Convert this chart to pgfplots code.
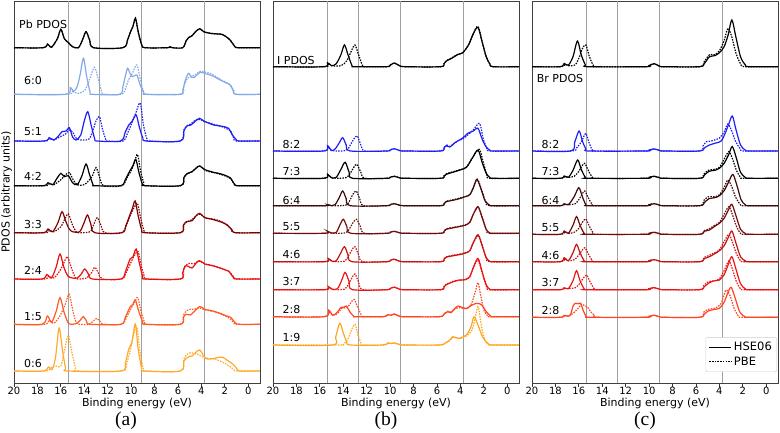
\documentclass[border=0pt]{standalone}
\usepackage{pgfplots}
\pgfplotsset{compat=1.18}
\usepackage{fontspec}
\setmainfont{DejaVu Sans}
\newfontfamily\seriff{Liberation Serif}
\definecolor{c60}{HTML}{85A9E8}
\definecolor{cblue}{HTML}{1F1FF5}
\definecolor{c33}{HTML}{800000}
\definecolor{c24}{HTML}{E8100E}
\definecolor{c15}{HTML}{FF5A24}
\definecolor{c06}{HTML}{FFAA2C}
\definecolor{c64}{HTML}{3C0A0A}
\definecolor{c55}{HTML}{700C0C}
\definecolor{c46}{HTML}{C81212}
\definecolor{c37}{HTML}{EE1414}
\definecolor{c28}{HTML}{FF4422}
\definecolor{c19}{HTML}{FFA620}
\definecolor{vl}{HTML}{A0A0A0}
\tikzset{hse/.style={solid,line width=1.2pt},pbe/.style={line width=1.2pt,dash pattern=on 1.5pt off 1.2pt}}
\newcommand{\cv}[4]{\addplot[#1,#2,smooth,tension=0.5,forget plot,y filter/.expression={y-#3}] coordinates {#4};}
\newcommand{\fs}{\fontsize{11}{13}\selectfont}
\newcommand{\ft}{\fontsize{10}{12}\selectfont}
\pgfplotsset{panel/.style={
  scale only axis, width=246pt, height=382pt, anchor=south west,
  xmin=-1, xmax=20, x dir=reverse, ymin=-383, ymax=-1,
  ytick=\empty, xtick={0,2,...,20}, xtick pos=lower, tick align=outside,
  major tick length=3.5pt, tick style={black!80,line width=0.8pt},
  axis line style={black!75,line width=0.8pt},
  /pgf/number format/assume math mode=true,
  tick label style={font=\ft}, xticklabel style={yshift=2.5pt},
  label style={font=\fs},
  xlabel={Binding energy (eV)},
  xlabel style={at={(axis description cs:0.5,0)},anchor=center,yshift=-20.3pt},
  clip=true}}
\newcommand{\vlines}{%
\addplot[vl,line width=1pt,forget plot] coordinates {(15.33,-383)(15.33,-1)};
\addplot[vl,line width=1pt,forget plot] coordinates {(12.68,-383)(12.68,-1)};
\addplot[vl,line width=1pt,forget plot] coordinates {(9.08,-383)(9.08,-1)};
\addplot[vl,line width=1pt,forget plot] coordinates {(3.70,-383)(3.70,-1)};}
\begin{document}
\begin{tikzpicture}
\path[use as bounding box] (0,0) rectangle (780pt,432pt);
% ---------------- (a) ----------------
\begin{axis}[panel, at={(14pt,49pt)}]
\vlines
% Pb
\cv{black}{pbe}{47.7}{(20,0)(17.5,0)(17.15,3.5)(16.8,0.5)(16.3,9)(16.0,18.2)(15.7,9)(15.35,5)(15.0,1)(14.5,0)(14.15,8)(13.85,16)(13.55,8)(13.2,0)(10.7,0)(10.3,8)(10.05,16)(9.85,21)(9.63,29.8)(9.4,16)(9.1,3)(8.8,0)(6.9,0)(6.7,1)(6.5,0)(5.6,0)(5.3,7)(5.1,10)(4.8,12)(4.5,16)(4.15,19)(3.8,16)(3.25,14.4)(2.7,13.8)(2.25,13.4)(1.9,11)(1.55,7.7)(1.2,2)(0.9,0)(-1,0)}
\cv{black}{hse}{47.7}{(20,0)(17.5,0)(17.15,3.7)(16.8,0.5)(16.3,9)(16.0,18.4)(15.7,9)(15.35,5)(15.0,1)(14.5,0)(14.15,8)(13.85,16)(13.55,8)(13.2,0)(10.7,0)(10.3,8)(10.05,16)(9.85,21)(9.63,29.4)(9.4,16)(9.1,3)(8.8,0)(6.9,0)(6.7,1)(6.5,0)(5.6,0)(5.3,7)(5.1,10)(4.8,12)(4.5,16)(4.15,19)(3.8,16)(3.25,14.4)(2.7,13.8)(2.25,13.4)(1.9,11)(1.55,7.7)(1.2,2)(0.9,0)(-1,0)}
% 6:0
\cv{c60}{pbe}{94.3}{(20,0)(15.5,0)(15.0,2.5)(14.5,1)(13.95,4)(13.55,15)(13.13,27)(12.8,15)(12.5,2)(12.3,0)(10.8,0)(10.45,7)(10.2,15)(9.94,20)(9.75,25)(9.5,29.3)(9.25,17)(8.95,3)(8.7,0)(5.8,0)(5.5,8)(5.2,16)(4.96,18)(4.6,19)(4.1,23)(3.6,22)(3.25,21)(2.8,18)(2.4,15)(1.9,12)(1.5,9)(1.2,3)(1.0,0)(-1,0)}
\cv{c60}{hse}{94.3}{(20,0)(15.6,0)(15.2,6.7)(14.9,3)(14.6,8)(14.35,20)(14.07,36)(13.8,18)(13.5,2)(13.3,0)(11.0,0)(10.7,8)(10.5,18)(10.3,26)(10.1,21)(9.9,17.7)(9.7,18.5)(9.5,19.3)(9.25,10)(8.9,1)(8.7,0)(5.8,0)(5.6,4)(5.35,15)(5.1,21)(4.85,17)(4.6,17)(4.1,22)(3.6,20.5)(3.25,19.3)(2.8,17)(2.4,14.3)(1.9,11.5)(1.55,9.3)(1.3,4)(1.05,0)(-1,0)}
% 5:1
\cv{cblue}{pbe}{141}{(20,0)(17.3,0)(17.0,2.5)(16.6,1)(16.1,4)(15.6,7)(15.3,11)(15.0,9)(14.7,3)(14.3,1)(13.6,2)(13.25,11)(13.0,20)(12.7,24.3)(12.45,12)(12.15,1)(12.0,0)(10.7,0)(10.3,8)(9.94,18)(9.6,28)(9.23,38)(8.95,16)(8.65,2)(8.4,0)(5.8,0)(5.5,11)(5.2,15.5)(4.9,17)(4.5,21)(4.1,21.5)(3.7,19)(3.3,18)(2.9,16.5)(2.4,15)(1.9,12.5)(1.5,10)(1.25,3)(1.0,0)(-1,0)}
\cv{cblue}{hse}{141}{(20,0)(17.4,0)(17.0,3.3)(16.6,1)(16.2,5)(15.9,9.3)(15.55,10)(15.27,13.3)(15.0,4)(14.7,1)(14.3,6)(14.0,20)(13.7,29.3)(13.4,15)(13.1,2)(12.9,0)(10.9,0)(10.5,9)(10.2,16)(9.9,20)(9.57,26)(9.3,14)(9.0,3)(8.7,0)(5.8,0)(5.5,10)(5.24,15)(4.9,16)(4.5,20)(4.16,22.7)(3.8,20)(3.4,18)(2.96,16)(2.4,15)(1.95,14)(1.68,12.7)(1.35,6)(1.0,1)(0.8,0)(-1,0)}
% 4:2
\cv{black}{pbe}{185.7}{(20,0)(17.3,0)(17.0,2)(16.6,1)(16.0,6)(15.6,11)(15.27,13)(14.95,6)(14.6,1)(14.0,1)(13.35,9)(13.0,18)(12.7,9)(12.35,0)(10.8,0)(10.35,8)(10.0,15)(9.75,22)(9.46,31.3)(9.2,15)(8.9,2)(8.7,0)(5.8,0)(5.5,8)(5.2,12)(4.8,14)(4.4,18.5)(4.1,19.5)(3.7,15.5)(3.3,14)(2.9,13)(2.4,11.5)(1.9,9.5)(1.5,7)(1.2,1.5)(0.95,0)(-1,0)}
\cv{black}{hse}{185.7}{(20,0)(17.5,0)(17.1,3)(16.7,1)(16.35,7)(16.0,12.3)(15.7,9)(15.36,10)(15.0,3)(14.6,1)(14.2,10)(13.85,21.7)(13.55,11)(13.25,1)(13.1,0)(10.9,0)(10.5,6)(10.1,15)(9.85,20)(9.6,26.3)(9.35,14)(9.05,2)(8.8,0)(5.8,0)(5.5,8)(5.24,12)(4.8,14)(4.4,18)(4.16,19.7)(3.7,16)(3.3,14.5)(2.96,13.3)(2.4,12)(1.9,10)(1.54,8)(1.2,2)(0.9,0)(-1,0)}
% 3:3
\cv{c33}{pbe}{232.7}{(20,0)(17.3,0)(17.0,2.5)(16.6,1)(16.0,6)(15.65,14)(15.36,18.7)(15.05,9)(14.7,1)(14.4,0)(13.5,1)(13.2,8)(12.9,15)(12.6,8)(12.25,0)(10.8,0)(10.4,8)(10.05,18)(9.75,25)(9.46,29.3)(9.2,15)(8.9,2)(8.7,0)(5.8,0)(5.5,8)(5.2,11)(4.8,13)(4.4,17.5)(4.1,18.5)(3.7,15)(3.3,14)(2.9,13.5)(2.4,11.5)(1.9,8.5)(1.5,4)(1.15,0)(-1,0)}
\cv{c33}{hse}{232.7}{(20,0)(17.5,0)(17.1,3.7)(16.7,1)(16.25,10)(15.9,21)(15.6,12)(15.3,4)(15.0,1)(14.4,1)(14.05,9)(13.73,17.7)(13.45,9)(13.1,0)(10.8,0)(10.45,7)(10.1,18)(9.9,24)(9.66,31.7)(9.4,17)(9.1,3)(8.8,0)(5.8,0)(5.55,7)(5.3,11)(4.8,12)(4.45,17)(4.16,19.3)(3.7,15)(3.3,14)(2.96,13)(2.4,11)(1.82,8)(1.4,3)(1.1,0)(-1,0)}
% 2:4
\cv{c24}{pbe}{279}{(20,0)(17.4,0)(17.05,3)(16.6,1)(16.1,8)(15.75,16)(15.44,22.3)(15.1,11)(14.75,1)(14.5,0)(13.8,1)(13.4,6)(13.1,11.7)(12.8,6)(12.45,0)(10.8,0)(10.4,7)(10.0,17)(9.7,24)(9.4,27.3)(9.15,14)(8.85,2)(8.65,0)(5.8,0)(5.5,10)(5.2,15)(4.96,15.7)(4.6,15.5)(4.2,18)(3.7,15)(3.3,14)(2.9,13)(2.4,11)(1.9,9)(1.5,6)(1.2,1)(1.0,0)(-1,0)}
\cv{c24}{hse}{279}{(20,0)(17.6,0)(17.2,4.5)(16.8,1)(16.4,12)(16.07,25)(15.75,12)(15.4,3)(15.0,1)(14.6,1)(14.25,5)(13.96,10)(13.65,5)(13.3,0)(10.9,0)(10.5,7)(10.1,19.7)(9.85,22)(9.57,30)(9.3,16)(9.0,2)(8.8,0)(5.8,0)(5.6,6)(5.4,13)(5.1,12.5)(4.8,11)(4.45,16)(4.16,18.3)(3.7,15)(3.3,14)(2.96,13)(2.4,11)(1.95,9)(1.68,8)(1.3,2)(1.0,0)(-1,0)}
% 1:5
\cv{c15}{pbe}{324.3}{(20,0)(17.4,0)(17.0,4)(16.6,1)(16.1,8)(15.65,19)(15.3,30)(15.0,15)(14.7,2)(14.4,0)(13.6,0)(13.25,3)(12.93,6)(12.6,2)(12.3,0)(10.8,0)(10.4,7)(10.0,16)(9.7,22)(9.44,26.7)(9.15,13)(8.85,2)(8.65,0)(5.8,0)(5.5,10)(5.2,14)(4.94,15)(4.6,15)(4.2,16.5)(3.7,14.5)(3.3,13.5)(2.9,12.5)(2.4,10.5)(1.9,8)(1.5,5)(1.2,1)(1.0,0)(-1,0)}
\cv{c15}{hse}{324.3}{(20,0)(17.6,0)(17.15,8.3)(16.8,2)(16.4,13)(16.07,26.7)(15.75,13)(15.4,2)(15.1,0)(14.6,1)(14.35,4)(14.07,7.7)(13.8,3)(13.5,0)(10.9,0)(10.5,7)(10.07,17.7)(9.85,20)(9.64,24.3)(9.35,13)(9.0,2)(8.8,0)(5.8,0)(5.55,7)(5.3,10)(4.94,9.3)(4.6,13)(4.14,17.7)(3.7,15)(3.3,14)(2.94,13)(2.4,11)(1.9,8.5)(1.5,7)(1.15,2)(0.8,0)(-1,0)}
% 0:6
\cv{c06}{pbe}{371}{(20,0)(17.3,0)(16.9,3)(16.5,4.7)(16.3,4.7)(16.0,5)(15.7,20)(15.36,35.7)(15.05,18)(14.75,3)(14.55,0)(10.8,0)(10.4,7)(10.05,22)(9.8,36)(9.5,43.7)(9.25,20)(8.95,2)(8.75,0)(5.8,0)(5.5,12)(5.2,17)(4.94,18.3)(4.6,17.5)(4.36,17)(3.9,14)(3.4,12.5)(2.94,12)(2.4,10)(1.9,7)(1.4,3)(1.0,0)(-1,0)}
\cv{c06}{hse}{371}{(20,0)(17.5,0)(17.07,4)(16.75,1.5)(16.45,14)(16.15,43)(15.85,20)(15.6,3)(15.4,0)(10.9,0)(10.5,8)(10.2,22)(9.95,28)(9.64,47)(9.4,22)(9.1,3)(8.85,0)(5.8,0)(5.5,10)(5.08,14.3)(4.8,15)(4.45,19)(4.14,21)(3.8,15)(3.5,12)(3.0,12.5)(2.6,13.5)(2.2,13.7)(1.7,10)(1.23,6)(0.9,1)(0.7,0)(-1,0)}
\begin{scope}[every node/.style={anchor=west,inner sep=0pt,font=\fs}]
\node at (axis cs:19.57,-24) {Pb PDOS};
\node at (axis cs:19.15,-80) {6:0};
\node at (axis cs:19.15,-132) {5:1};
\node at (axis cs:19.15,-176.7) {4:2};
\node at (axis cs:19.15,-224.3) {3:3};
\node at (axis cs:19.15,-270.7) {2:4};
\node at (axis cs:19.15,-316.7) {1:5};
\node at (axis cs:19.15,-363.3) {0:6};
\end{scope}
\end{axis}
% ---------------- (b) ----------------
\begin{axis}[panel, at={(273pt,49pt)}]
\vlines
\cv{black}{pbe}{66.7}{(20,0)(15.6,0)(15.3,3.5)(15.0,1)(14.2,1)(13.7,6)(13.3,16)(13.0,21.7)(12.7,12)(12.35,1)(12.1,0)(10.3,0)(10.0,1.5)(9.64,3.7)(9.2,1)(8.7,0)(5.7,0)(5.4,3)(5.2,6)(4.8,8.5)(4.2,12.5)(3.8,14)(3.3,22)(2.9,33)(2.5,40.3)(2.15,25)(1.8,10)(1.5,3)(1.2,0)(-1,0)}
\cv{black}{hse}{66.7}{(20,0)(15.7,0)(15.35,4)(15.0,1)(14.6,3)(14.2,12)(13.9,21.7)(13.6,12)(13.25,1)(13.0,0)(10.3,0)(10.0,1.5)(9.64,3.7)(9.2,1)(8.7,0)(5.7,0)(5.4,3)(5.2,5.7)(4.8,8)(4.2,12.3)(3.8,14)(3.3,22)(2.9,33)(2.5,39.3)(2.15,25)(1.8,10)(1.5,3)(1.2,0)(-1,0)}
\cv{cblue}{pbe}{151}{(20,0)(15.7,0)(15.3,4.5)(15.0,0.5)(13.8,0.5)(13.4,6)(13.1,12)(12.8,15)(12.5,6)(12.15,0)(10.3,0)(10.0,1)(9.64,2.3)(9.2,0.5)(8.7,0)(5.7,0)(5.4,3.5)(5.15,6)(4.9,4.5)(4.5,8)(4.2,10.3)(3.8,12)(3.37,16)(2.9,21)(2.37,27.7)(2.05,12)(1.75,3)(1.5,0)(-1,0)}
\cv{cblue}{hse}{151}{(20,0)(15.7,0)(15.35,5.3)(15.0,0.5)(14.7,2)(14.35,8)(14.05,13.3)(13.75,6)(13.4,0)(10.3,0)(10.0,1)(9.64,2.3)(9.2,0.5)(8.7,0)(5.7,0)(5.4,3)(5.2,5.3)(4.9,4)(4.5,8)(4.2,10.3)(3.8,13)(3.37,17.7)(2.9,20)(2.5,22.7)(2.15,12)(1.8,4)(1.5,1)(1.2,0)(-1,0)}
\cv{black}{pbe}{178.3}{(20,0)(15.7,0)(15.3,3.5)(15.0,0.5)(13.8,0.5)(13.4,5)(13.1,11)(12.84,14)(12.5,6)(12.15,0)(10.3,0)(10.0,1)(9.64,2)(9.2,0.5)(8.7,0)(5.7,0)(5.4,2.5)(5.2,4.5)(4.8,6)(4.2,8)(3.5,11)(3.0,20)(2.4,29)(2.05,16)(1.75,4)(1.5,0)(-1,0)}
\cv{black}{hse}{178.3}{(20,0)(15.7,0)(15.35,4)(15.0,0.5)(14.6,1)(14.2,9)(13.84,16)(13.5,6)(13.2,0)(10.3,0)(10.0,1)(9.64,2)(9.2,0.5)(8.7,0)(5.7,0)(5.4,2)(5.2,4)(4.8,5.5)(4.2,7.7)(3.5,11)(3.0,20)(2.5,28.3)(2.15,16)(1.8,5)(1.5,1)(1.2,0)(-1,0)}
\cv{c64}{pbe}{205.7}{(20,0)(15.5,0)(15.3,1)(15.0,0)(13.8,0.5)(13.45,5)(13.2,11)(12.9,14.7)(12.6,7)(12.25,0)(10.3,0)(10.0,1)(9.64,2)(9.2,0.5)(8.7,0)(5.7,0)(5.4,2.5)(5.2,4.5)(4.6,6)(4.1,7.5)(3.6,9)(3.2,11)(2.9,18)(2.55,26.5)(2.2,16)(1.85,4)(1.5,0)(-1,0)}
\cv{c64}{hse}{205.7}{(20,0)(15.6,0)(15.35,1)(15.0,0)(14.7,1)(14.35,8)(14.05,14.7)(13.75,7)(13.4,0)(10.3,0)(10.0,1)(9.64,2)(9.2,0.5)(8.7,0)(5.7,0)(5.4,2)(5.2,4)(4.6,5.5)(4.1,7)(3.6,9)(3.2,11)(2.9,18)(2.6,26.3)(2.25,17)(1.9,5)(1.5,0.5)(1.2,0)(-1,0)}
\cv{c55}{pbe}{233.3}{(20,0)(15.6,0)(15.3,1.5)(15.0,0)(13.8,0.5)(13.45,5)(13.15,11)(12.87,14)(12.55,7)(12.2,0)(10.3,0)(10.0,1)(9.64,2)(9.2,0.5)(8.7,0)(5.7,0)(5.4,2.5)(5.2,4.5)(4.6,6)(4.1,7)(3.6,8.5)(3.2,11)(2.9,19)(2.5,26)(2.15,16)(1.8,4)(1.5,0)(-1,0)}
\cv{c55}{hse}{233.3}{(20,0)(15.65,0)(15.35,2)(15.0,0.3)(14.6,1)(14.3,8)(14.0,14)(13.7,7)(13.35,0)(10.3,0)(10.0,1)(9.64,2)(9.2,0.5)(8.7,0)(5.7,0)(5.4,2)(5.2,4)(4.6,5.5)(4.1,6.7)(3.6,8)(3.2,11)(2.9,19)(2.5,26.7)(2.15,16)(1.8,4)(1.5,0.5)(1.2,0)(-1,0)}
\cv{c46}{pbe}{261.7}{(20,0)(15.6,0)(15.26,2.5)(14.95,0.3)(13.9,0.5)(13.55,6)(13.25,12)(13.0,15)(12.7,7)(12.35,0)(10.3,0)(10.0,1.2)(9.64,2.5)(9.2,0.5)(8.7,0)(5.7,0)(5.4,3)(5.2,5)(4.6,6.5)(4.1,7.5)(3.6,9)(3.2,11)(2.9,19)(2.45,26)(2.1,15)(1.8,4)(1.5,0)(-1,0)}
\cv{c46}{hse}{261.7}{(20,0)(15.65,0)(15.26,3)(14.95,0.5)(14.6,1)(14.25,8)(13.9,15)(13.6,7)(13.25,0)(10.3,0)(10.0,1.2)(9.64,2.5)(9.2,0.5)(8.7,0)(5.7,0)(5.4,2.5)(5.2,4.5)(4.6,6)(4.1,7)(3.6,8.5)(3.2,11)(2.9,19)(2.5,27)(2.15,16)(1.8,4)(1.5,0.5)(1.2,0)(-1,0)}
\cv{c37}{pbe}{289.7}{(20,0)(15.6,0)(15.26,2.5)(14.95,0.3)(13.9,0.5)(13.55,6)(13.25,12)(13.0,15.7)(12.7,8)(12.35,0)(10.3,0)(10.0,1.2)(9.64,2.5)(9.2,0.5)(8.7,0)(5.7,0)(5.4,3.5)(5.2,5.5)(4.6,8.5)(4.07,9.5)(3.6,10)(3.2,13)(2.9,22)(2.5,29.7)(2.15,17)(1.8,4)(1.5,0)(-1,0)}
\cv{c37}{hse}{289.7}{(20,0)(15.65,0)(15.26,3)(14.95,0.5)(14.5,1)(14.15,9)(13.84,17.3)(13.5,8)(13.2,0)(10.3,0)(10.0,1.2)(9.64,2.5)(9.2,0.5)(8.7,0)(5.7,0)(5.4,3)(5.2,5)(4.6,8)(4.07,9.7)(3.6,10)(3.2,13)(2.9,22)(2.5,31.3)(2.15,18)(1.8,5)(1.5,0.5)(1.2,0)(-1,0)}
\cv{c28}{pbe}{316.7}{(20,0)(15.65,0)(15.26,5)(14.9,1.5)(14.5,3)(14.15,8)(13.85,9)(13.6,10)(13.35,14)(13.07,17.3)(12.75,9)(12.4,0.5)(12.2,0)(10.6,0)(10.2,2)(9.9,1.5)(9.64,2.7)(9.2,0.5)(8.7,0)(5.8,0)(5.4,3)(5.08,5.5)(4.8,4.5)(4.5,7.5)(4.2,9)(3.8,8.5)(3.5,8)(3.1,12)(2.75,24)(2.5,34)(2.25,20)(1.95,5)(1.6,0.5)(1.4,0)(-1,0)}
\cv{c28}{hse}{316.7}{(20,0)(15.65,0)(15.26,6.7)(14.9,1.5)(14.55,4)(14.2,9.3)(13.95,9.5)(13.72,10.7)(13.45,5)(13.1,0.5)(12.9,0)(10.6,0)(10.2,2)(9.9,1.5)(9.64,2.7)(9.2,0.5)(8.7,0)(5.8,0)(5.4,2.5)(5.08,5)(4.8,4)(4.5,8)(4.2,10.7)(3.8,9)(3.5,8)(3.1,11)(2.65,13.3)(2.2,12)(1.8,5)(1.4,0.5)(1.2,0)(-1,0)}
\cv{c19}{pbe}{345}{(20,0)(14.5,0)(14.0,0.5)(13.6,6)(13.3,15)(13.0,20.7)(12.75,10)(12.45,1)(12.3,0)(10.6,0)(10.2,2)(9.9,1.5)(9.64,2)(9.2,0.5)(8.7,0)(5.8,0)(5.3,2)(4.9,4.5)(4.65,7.5)(4.3,7)(4.08,6.5)(3.5,9)(3.0,15)(2.8,24)(2.5,38.3)(2.25,22)(1.95,6)(1.6,0.5)(1.3,0)(-1,0)}
\cv{c19}{hse}{345}{(20,0)(14.95,0)(14.65,8)(14.3,21.7)(14.0,12)(13.7,3)(13.4,0)(10.6,0)(10.2,2)(9.9,1.5)(9.64,2)(9.2,0.5)(8.7,0)(5.8,0)(5.3,2)(4.9,5)(4.65,8.3)(4.3,7)(4.08,6.7)(3.5,10)(3.1,18)(2.84,28.3)(2.5,20)(2.1,8)(1.6,1)(1.23,0)(-1,0)}
\begin{scope}[every node/.style={anchor=west,inner sep=0pt,font=\fs}]
\node at (axis cs:19.66,-60) {I PDOS};
\node at (axis cs:19.2,-144.3) {8:2};
\node at (axis cs:19.2,-171.7) {7:3};
\node at (axis cs:19.2,-200) {6:4};
\node at (axis cs:19.2,-226.7) {5:5};
\node at (axis cs:19.2,-254.3) {4:6};
\node at (axis cs:19.2,-281.7) {3:7};
\node at (axis cs:19.2,-309.3) {2:8};
\node at (axis cs:19.2,-337.3) {1:9};
\end{scope}
\end{axis}
% ---------------- (c) ----------------
\begin{axis}[panel, at={(532pt,49pt)},
  legend style={at={(0.996,0.029)},anchor=south east,draw=black!20,rounded corners=2pt,font=\fontsize{11.5}{13.5}\selectfont,row sep=0.5pt,inner sep=3pt},
  legend cell align=left,
  legend image code/.code={\draw[#1] (0pt,0pt) -- (22pt,0pt);}]
\addlegendimage{black,line width=1.2pt}
\addlegendentry{HSE06}
\addlegendimage{black,line width=1.2pt,dash pattern=on 1.5pt off 1.2pt}
\addlegendentry{PBE}
\vlines
\cv{black}{pbe}{66.7}{(20,0)(17.5,0)(17.2,2.5)(16.9,1)(16.3,2)(15.95,10)(15.7,18)(15.4,21.7)(15.1,10)(14.75,1)(14.5,0)(10.3,0)(10.0,1.2)(9.56,3)(9.1,0.5)(8.7,0)(5.7,0)(5.3,5)(4.85,12)(4.4,12)(4.0,16)(3.6,26)(3.28,38.3)(2.95,30)(2.6,14)(2.2,3)(1.8,0)(-1,0)}
\cv{black}{hse}{66.7}{(20,0)(17.6,0)(17.26,3.3)(16.9,1.5)(16.5,10)(16.12,25.7)(15.8,12)(15.45,2)(15.2,0)(10.3,0)(10.0,1.2)(9.56,3)(9.1,0.5)(8.7,0)(5.7,0)(5.3,3)(4.85,10)(4.4,11)(4.0,14)(3.6,20)(3.25,32)(2.94,46.7)(2.6,30)(2.2,10)(1.8,2)(1.5,0)(-1,0)}
\cv{cblue}{pbe}{151}{(20,0)(16.6,0)(16.2,3)(15.8,9)(15.6,14)(15.4,17.7)(15.15,9)(14.85,1)(14.6,0)(10.3,0)(10.0,1)(9.56,2)(9.1,0.5)(8.7,0)(5.7,0)(5.4,5)(5.1,9.3)(4.7,10)(4.0,13)(3.6,19)(3.28,27)(2.95,20)(2.6,9)(2.2,2)(1.9,0)(-1,0)}
\cv{cblue}{hse}{151}{(20,0)(16.7,0)(16.35,9)(15.98,20)(15.7,10)(15.4,2)(15.1,0)(10.3,0)(10.0,1)(9.56,2)(9.1,0.5)(8.7,0)(5.7,0)(5.3,3)(4.85,6)(4.3,8)(3.85,10)(3.5,18)(3.2,27)(2.9,35)(2.6,22)(2.2,6)(1.8,1)(1.5,0)(-1,0)}
\cv{black}{pbe}{178.3}{(20,0)(17.5,0)(17.2,2)(16.9,1)(16.4,2)(16.0,7)(15.75,12)(15.5,15)(15.2,8)(14.85,1)(14.6,0)(10.3,0)(10.0,1)(9.56,2)(9.1,0.5)(8.7,0)(5.7,0)(5.35,4)(4.95,8)(4.4,9)(4.0,11)(3.6,19)(3.2,26.7)(2.9,20)(2.55,8)(2.2,1)(1.9,0)(-1,0)}
\cv{black}{hse}{178.3}{(20,0)(17.6,0)(17.26,2.3)(16.9,1)(16.5,8)(16.1,18.3)(15.8,9)(15.45,1)(15.2,0)(10.3,0)(10.0,1)(9.56,2)(9.1,0.5)(8.7,0)(5.7,0)(5.3,3)(4.9,7)(4.4,8)(4.0,10)(3.6,15)(3.2,24)(2.9,31.7)(2.55,20)(2.2,6)(1.8,1)(1.5,0)(-1,0)}
\cv{c64}{pbe}{205.7}{(20,0)(17.5,0)(17.2,1.5)(16.9,1)(16.3,2)(15.95,7)(15.75,11)(15.5,14.7)(15.2,8)(14.85,1)(14.6,0)(10.3,0)(10.0,1)(9.56,2)(9.1,0.5)(8.7,0)(5.7,0)(5.35,5)(4.95,9)(4.4,9)(4.0,11)(3.6,18)(3.28,25.7)(2.95,19)(2.6,8)(2.2,1)(1.9,0)(-1,0)}
\cv{c64}{hse}{205.7}{(20,0)(17.6,0)(17.26,2)(16.9,1)(16.4,9)(16.0,18)(15.7,9)(15.4,1)(15.1,0)(10.3,0)(10.0,1)(9.56,2)(9.1,0.5)(8.7,0)(5.7,0)(5.3,3)(4.9,7)(4.4,8)(4.0,10)(3.6,15)(3.2,24)(2.85,31.3)(2.5,20)(2.15,6)(1.8,1)(1.5,0)(-1,0)}
\cv{c55}{pbe}{234.3}{(20,0)(17.5,0)(17.2,2.5)(16.9,1)(16.4,2)(16.0,6)(15.7,12)(15.4,15.3)(15.1,8)(14.75,1)(14.5,0)(10.3,0)(10.0,1)(9.56,2)(9.1,0.5)(8.7,0)(5.7,0)(5.35,3.5)(4.95,5)(4.4,9)(4.0,12)(3.6,20)(3.2,27.7)(2.9,20)(2.55,8)(2.2,1)(1.9,0)(-1,0)}
\cv{c55}{hse}{234.3}{(20,0)(17.6,0)(17.26,3.3)(16.9,1)(16.5,9)(16.2,17.7)(15.9,9)(15.55,1)(15.3,0)(10.3,0)(10.0,1)(9.56,2)(9.1,0.5)(8.7,0)(5.7,0)(5.3,3)(4.85,4.3)(4.4,8)(4.0,11)(3.6,16)(3.25,24)(2.94,30)(2.6,19)(2.2,5)(1.8,1)(1.5,0)(-1,0)}
\cv{c46}{pbe}{261.7}{(20,0)(17.5,0)(17.2,3)(16.9,1)(16.4,2)(16.05,6)(15.75,11)(15.5,14)(15.2,8)(14.85,1)(14.6,0)(10.3,0)(10.0,1)(9.56,2)(9.1,0.5)(8.7,0)(5.7,0)(5.35,4)(4.95,6)(4.4,9)(4.0,12)(3.6,20)(3.2,27.3)(2.9,20)(2.55,8)(2.2,1)(1.9,0)(-1,0)}
\cv{c46}{hse}{261.7}{(20,0)(17.6,0)(17.26,4)(16.9,1)(16.5,9)(16.2,17.3)(15.9,9)(15.55,1)(15.3,0)(10.3,0)(10.0,1)(9.56,2)(9.1,0.5)(8.7,0)(5.7,0)(5.3,3)(4.85,5)(4.4,8)(4.0,11)(3.6,16)(3.25,24)(2.94,30.7)(2.6,19)(2.2,5)(1.8,1)(1.5,0)(-1,0)}
\cv{c37}{pbe}{289.7}{(20,0)(17.5,0)(17.2,1.5)(16.9,1)(16.3,2)(15.95,6)(15.65,11)(15.35,14.7)(15.05,8)(14.7,1)(14.45,0)(10.3,0)(10.0,1)(9.56,2)(9.1,0.5)(8.7,0)(5.7,0)(5.35,4)(4.95,8)(4.4,9)(4.0,11)(3.6,19)(3.2,28.7)(2.9,21)(2.55,8)(2.2,1)(1.9,0)(-1,0)}
\cv{c37}{hse}{289.7}{(20,0)(17.6,0)(17.26,2)(16.9,1)(16.5,9)(16.2,19)(15.9,9)(15.55,1)(15.3,0)(10.3,0)(10.0,1)(9.56,2)(9.1,0.5)(8.7,0)(5.7,0)(5.3,3)(4.85,7)(4.4,9)(4.0,9.7)(3.6,15)(3.25,25)(2.94,33)(2.6,21)(2.2,6)(1.8,1)(1.5,0)(-1,0)}
\cv{c28}{pbe}{317.3}{(20,0)(17.5,0)(17.2,1.5)(16.9,1)(16.6,3)(16.3,6)(16.05,9)(15.8,13)(15.55,12)(15.25,10)(14.95,5)(14.65,2)(14.4,0)(10.3,0)(10.0,1)(9.56,2)(9.1,0.5)(8.7,0)(5.7,0)(5.35,5)(4.95,8)(4.4,9)(3.9,13)(3.65,21)(3.42,27.3)(3.1,22)(2.75,9)(2.35,1)(2.0,0)(-1,0)}
\cv{c28}{hse}{317.3}{(20,0)(17.6,0)(17.26,2)(16.9,1)(16.7,3)(16.5,11)(16.3,14)(16.05,13.5)(15.85,14)(15.6,6)(15.35,0.5)(15.1,0)(10.3,0)(10.0,1)(9.56,2)(9.1,0.5)(8.7,0)(5.7,0)(5.3,3)(5.0,6)(4.4,8)(4.0,9)(3.6,15)(3.3,24)(3.0,30)(2.65,19)(2.25,5)(1.8,0.5)(1.5,0)(-1,0)}
\begin{scope}[every node/.style={anchor=west,inner sep=0pt,font=\fs}]
\node at (axis cs:19.6,-78.3) {Br PDOS};
\node at (axis cs:19.2,-144.3) {8:2};
\node at (axis cs:19.2,-171.7) {7:3};
\node at (axis cs:19.2,-200) {6:4};
\node at (axis cs:19.2,-227.3) {5:5};
\node at (axis cs:19.2,-255) {4:6};
\node at (axis cs:19.2,-282.7) {3:7};
\node at (axis cs:19.2,-310) {2:8};
\end{scope}
\end{axis}
\node[rotate=90,font=\fs] at (6.5pt,240pt) {PDOS (arbitrary units)};
\node[font=\seriff\fontsize{19.5}{22}\selectfont] at (126pt,11pt) {(a)};
\node[font=\seriff\fontsize{19.5}{22}\selectfont] at (386pt,11pt) {(b)};
\node[font=\seriff\fontsize{19.5}{22}\selectfont] at (645pt,11pt) {(c)};
\end{tikzpicture}
\end{document}
